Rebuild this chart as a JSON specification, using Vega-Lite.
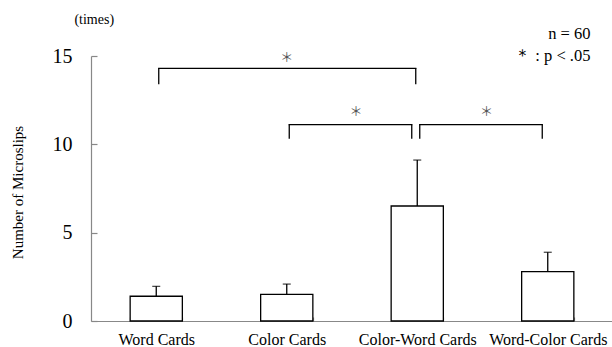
{
  "$schema": "https://vega.github.io/schema/vega-lite/v6.json",
  "autosize": "none",
  "padding": {"left": 91, "top": 56, "right": 0, "bottom": 26},
  "width": 522,
  "height": 265,
  "config": {"view": {"stroke": null}, "font": "Liberation Serif"},
  "datasets": {
    "bars": [
      {"condition": "Word Cards", "mean": 1.40, "upper": 1.96},
      {"condition": "Color Cards", "mean": 1.51, "upper": 2.09},
      {"condition": "Color-Word Cards", "mean": 6.51, "upper": 9.11},
      {"condition": "Word-Color Cards", "mean": 2.79, "upper": 3.89}
    ],
    "bracket1": [
      {"a": "Word Cards", "b": "Color-Word Cards", "mid": "Color Cards", "top": 14.3, "foot": 13.4, "star": 14.88}
    ],
    "bracket23": [
      {"a": "Color Cards", "b": "Color-Word Cards", "top": 11.12, "foot": 10.32, "star": 11.83},
      {"a": "Color-Word Cards", "b": "Word-Color Cards", "top": 11.12, "foot": 10.32, "star": 11.83}
    ]
  },
  "layer": [
    {
      "data": {"name": "bars"},
      "mark": {"type": "bar", "fill": "white", "stroke": "black", "strokeWidth": 1.3},
      "encoding": {
        "x": {
          "field": "condition", "type": "nominal", "title": null,
          "scale": {"domain": ["Word Cards", "Color Cards", "Color-Word Cards", "Word-Color Cards"], "paddingInner": 0.6, "paddingOuter": 0.3},
          "axis": {
            "domainColor": "#888", "domainWidth": 1.2, "tickColor": "#888", "tickWidth": 1.2,
            "tickSize": -4, "tickBand": "extent", "labelFontSize": 16, "labelColor": "black",
            "labelPadding": 14.5, "labelAngle": 0, "labelOverlap": false, "labelFont": "Liberation Serif"
          }
        },
        "y": {
          "field": "mean", "type": "quantitative", "title": "Number of Microslips",
          "scale": {"domain": [0, 15], "nice": false},
          "axis": {
            "values": [0, 5, 10, 15], "grid": false,
            "domainColor": "#888", "domainWidth": 1.2, "tickColor": "#888", "tickWidth": 1.2, "tickSize": -6,
            "labelPadding": 25, "labelFontSize": 20, "labelColor": "black", "labelFont": "Liberation Serif",
            "titleFontSize": 15, "titleFontWeight": "normal", "titleColor": "black", "titleFont": "Liberation Serif",
            "titleAngle": -90, "titleX": -69, "titleY": 136, "titleAlign": "center", "titleBaseline": "alphabetic"
          }
        }
      }
    },
    {
      "data": {"name": "bars"},
      "mark": {"type": "rule", "color": "black", "strokeWidth": 1.3},
      "encoding": {
        "x": {"field": "condition", "type": "nominal", "title": null},
        "y": {"field": "mean", "type": "quantitative", "title": "Number of Microslips"},
        "y2": {"field": "upper"}
      }
    },
    {
      "data": {"name": "bars"},
      "mark": {"type": "tick", "color": "black", "size": 8, "thickness": 1.3},
      "encoding": {
        "x": {"field": "condition", "type": "nominal", "title": null},
        "y": {"field": "upper", "type": "quantitative", "title": "Number of Microslips"}
      }
    },
    {
      "data": {"name": "bracket1"},
      "mark": {"type": "rule", "color": "black", "strokeWidth": 1.3, "strokeCap": "square", "xOffset": 2.5, "x2Offset": -1.5},
      "encoding": {
        "x": {"field": "a", "type": "nominal", "title": null},
        "x2": {"field": "b"},
        "y": {"field": "top", "type": "quantitative", "title": "Number of Microslips"}
      }
    },
    {
      "data": {"name": "bracket1"},
      "mark": {"type": "rule", "color": "black", "strokeWidth": 1.3, "xOffset": 2.5},
      "encoding": {
        "x": {"field": "a", "type": "nominal", "title": null},
        "y": {"field": "top", "type": "quantitative", "title": "Number of Microslips"},
        "y2": {"field": "foot"}
      }
    },
    {
      "data": {"name": "bracket1"},
      "mark": {"type": "rule", "color": "black", "strokeWidth": 1.3, "xOffset": -1.5},
      "encoding": {
        "x": {"field": "b", "type": "nominal", "title": null},
        "y": {"field": "top", "type": "quantitative", "title": "Number of Microslips"},
        "y2": {"field": "foot"}
      }
    },
    {
      "data": {"name": "bracket1"},
      "mark": {"type": "text", "text": "＊", "font": "Noto Sans CJK JP", "fontSize": 13, "color": "#555", "baseline": "middle", "align": "center"},
      "encoding": {
        "x": {"field": "mid", "type": "nominal", "title": null},
        "y": {"field": "star", "type": "quantitative", "title": "Number of Microslips"}
      }
    },
    {
      "data": {"name": "bracket23"},
      "mark": {"type": "rule", "color": "black", "strokeWidth": 1.3, "strokeCap": "square", "xOffset": 2.5, "x2Offset": -5.5},
      "encoding": {
        "x": {"field": "a", "type": "nominal", "title": null},
        "x2": {"field": "b"},
        "y": {"field": "top", "type": "quantitative", "title": "Number of Microslips"}
      }
    },
    {
      "data": {"name": "bracket23"},
      "mark": {"type": "rule", "color": "black", "strokeWidth": 1.3, "xOffset": 2.5},
      "encoding": {
        "x": {"field": "a", "type": "nominal", "title": null},
        "y": {"field": "top", "type": "quantitative", "title": "Number of Microslips"},
        "y2": {"field": "foot"}
      }
    },
    {
      "data": {"name": "bracket23"},
      "mark": {"type": "rule", "color": "black", "strokeWidth": 1.3, "xOffset": -5.5},
      "encoding": {
        "x": {"field": "b", "type": "nominal", "title": null},
        "y": {"field": "top", "type": "quantitative", "title": "Number of Microslips"},
        "y2": {"field": "foot"}
      }
    },
    {
      "data": {"name": "bracket23"},
      "mark": {"type": "text", "text": "＊", "font": "Noto Sans CJK JP", "fontSize": 13, "color": "#555", "baseline": "middle", "align": "center", "dx": 4},
      "encoding": {
        "x": {"field": "a", "type": "nominal", "title": null, "bandPosition": 1.75},
        "y": {"field": "star", "type": "quantitative", "title": "Number of Microslips"}
      }
    },
    {
      "data": {"values": [{}]},
      "mark": {"type": "text", "text": "(times)", "fontSize": 14, "color": "black", "baseline": "alphabetic", "align": "center", "dx": -62},
      "encoding": {
        "x": {"datum": "Word Cards", "type": "nominal", "title": null},
        "y": {"datum": 16.79, "type": "quantitative", "title": "Number of Microslips"}
      }
    },
    {
      "data": {"values": [{}]},
      "mark": {"type": "text", "text": "n = 60", "fontSize": 16.5, "color": "black", "baseline": "alphabetic", "align": "right", "dx": 42.7},
      "encoding": {
        "x": {"datum": "Word-Color Cards", "type": "nominal", "title": null},
        "y": {"datum": 15.94, "type": "quantitative", "title": "Number of Microslips"}
      }
    },
    {
      "data": {"values": [{}]},
      "mark": {"type": "text", "text": "＊ : p < .05", "fontSize": 16.5, "color": "black", "baseline": "alphabetic", "align": "right", "dx": 42.7},
      "encoding": {
        "x": {"datum": "Word-Color Cards", "type": "nominal", "title": null},
        "y": {"datum": 14.70, "type": "quantitative", "title": "Number of Microslips"}
      }
    }
  ]
}
